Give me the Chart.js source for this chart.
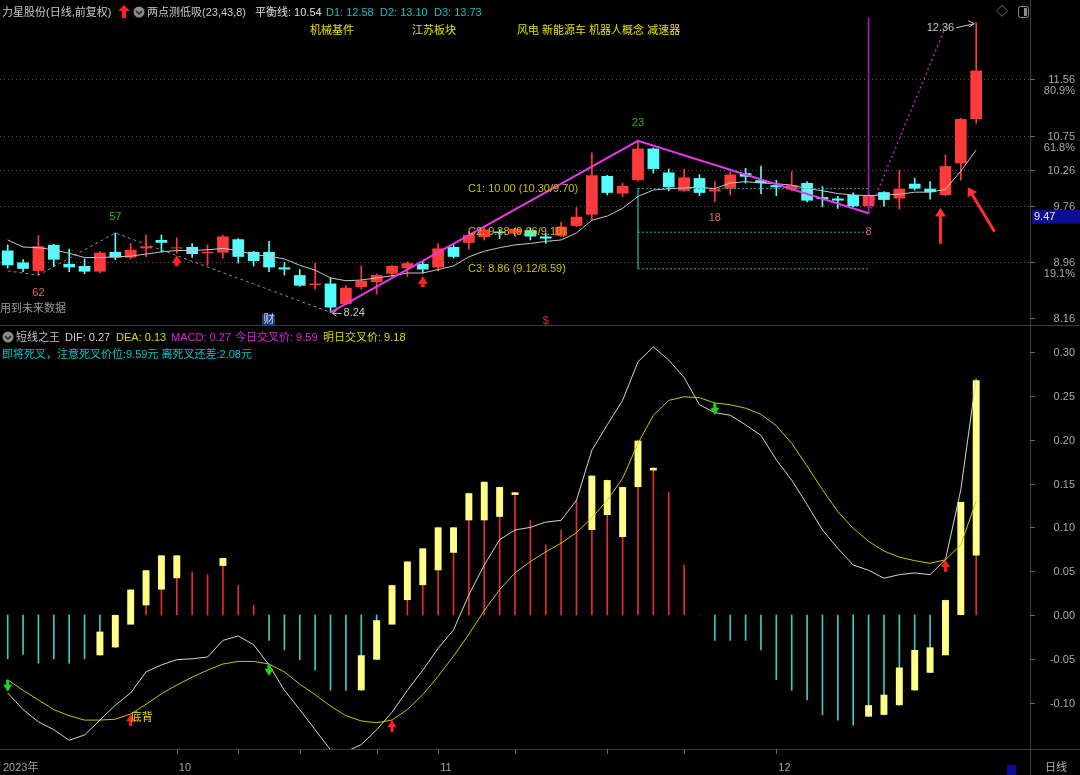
<!DOCTYPE html>
<html lang="zh-CN">
<head>
<meta charset="utf-8">
<title>力星股份 日线</title>
<script src="https://cdn.jsdelivr.net/npm/chart.js@4.4.1/dist/chart.umd.min.js"></script>
<style>
  html, body { margin: 0; padding: 0; background: #000; }
  body { width: 1080px; height: 775px; position: relative; overflow: hidden;
         font-family: "Liberation Sans", "Noto Sans CJK SC", sans-serif; font-size: 11px; }
  canvas { position: absolute; left: 0; }
  #topCanvas { top: 0; }
  #botCanvas { top: 327px; }
  .lbl { position: absolute; white-space: nowrap; line-height: 14px; }
</style>
</head>
<body>
<canvas id="topCanvas" width="1080" height="327"></canvas>
<canvas id="botCanvas" width="1080" height="448"></canvas>

<div class="lbl" style="left:2px;top:5px;color:#c8c8c8">力星股份(日线,前复权)</div>
<svg style="position:absolute;left:118px;top:5px" width="12" height="14"><polygon points="6,0 12,6 8,6 8,13 4,13 4,6 0,6" fill="#ff2020"/></svg>
<svg style="position:absolute;left:133px;top:6px" width="12" height="12"><circle cx="6" cy="6" r="5.5" fill="#8a8a8a"/><polyline points="3,5 6,8 9,5" fill="none" stroke="#222" stroke-width="1.5"/></svg>
<div class="lbl" style="left:147px;top:5px;color:#c8c8c8">两点测低吸(23,43,8)</div>
<div class="lbl" style="left:255px;top:5px;color:#e0e0e0">平衡线: 10.54</div>
<div class="lbl" style="left:326px;top:5px;color:#10c0c0">D1: 12.58</div>
<div class="lbl" style="left:380px;top:5px;color:#10c0c0">D2: 13.10</div>
<div class="lbl" style="left:434px;top:5px;color:#10c0c0">D3: 13.73</div>
<div class="lbl" style="left:310px;top:23px;color:#e0e000">机械基件</div>
<div class="lbl" style="left:412px;top:23px;color:#e0e000">江苏板块</div>
<div class="lbl" style="left:517px;top:23px;color:#e0e000">风电 新能源车 机器人概念 减速器</div>
<div class="lbl" style="left:996px;top:5px;color:#8a8a8a;font-size:12px">◇</div>
<svg style="position:absolute;left:1018px;top:6px" width="11" height="12"><rect x="0.5" y="0.5" width="10" height="11" rx="2" fill="none" stroke="#8a8a8a"/><rect x="6" y="2" width="3" height="8" fill="#8a8a8a"/></svg>

<svg style="position:absolute;left:2px;top:331px" width="12" height="12"><circle cx="6" cy="6" r="5.5" fill="#8a8a8a"/><polyline points="3,5 6,8 9,5" fill="none" stroke="#222" stroke-width="1.5"/></svg>
<div class="lbl" style="left:16px;top:330px;color:#c0c0c0">短线之王</div>
<div class="lbl" style="left:65px;top:330px;color:#d0d0d0">DIF: 0.27</div>
<div class="lbl" style="left:116px;top:330px;color:#d8d800">DEA: 0.13</div>
<div class="lbl" style="left:171px;top:330px;color:#e020e0">MACD: 0.27</div>
<div class="lbl" style="left:235px;top:330px;color:#e020e0">今日交叉价: 9.59</div>
<div class="lbl" style="left:323px;top:330px;color:#d8d800">明日交叉价: 9.18</div>
<div class="lbl" style="left:2px;top:347px;color:#00c8c8">即将死叉，注意死叉价位:9.59元 离死叉还差:2.08元</div>

<script>
// trading days shown (Sep 14 - Dec 20, 2023)
const dates = [
  '09-14','09-15','09-18','09-19','09-20','09-21','09-22','09-25','09-26','09-27','09-28',
  '10-09','10-10','10-11','10-12','10-13','10-16','10-17','10-18','10-19','10-20',
  '10-23','10-24','10-25','10-26','10-27','10-30','10-31',
  '11-01','11-02','11-03','11-06','11-07','11-08','11-09','11-10','11-13','11-14',
  '11-15','11-16','11-17','11-20','11-21','11-22','11-23','11-24','11-27','11-28','11-29','11-30',
  '12-01','12-04','12-05','12-06','12-07','12-08','12-11','12-12','12-13','12-14','12-15',
  '12-18','12-19','12-20'
];
const emptySlots = ['', '', ''];

const open = [9.12,8.95,8.83,9.20,8.93,8.90,8.82,9.10,9.02,9.15, 9.27,9.15,9.17,9.08,9.09,9.28,9.10,9.10,8.88,8.77,
  8.63,8.65,8.36,8.60,8.67,8.79,8.87,8.93,8.88,9.17, 9.23,9.31,9.39,9.36,9.41,9.32,9.33,9.47,9.63,10.18,
  9.93,10.12,10.57,10.23,9.97,10.15,9.96,10.00,10.22,10.12, 10.05,9.99,10.08,9.88,9.86,9.91,9.75,9.95,9.86,10.07,
  10.00,9.91,10.36,10.99];
const close = [8.91,8.86,9.18,8.99,8.88,8.82,9.09,9.02,9.13,9.18, 9.23,9.16,9.07,9.10,9.32,9.03,8.97,8.88,8.85,8.62,
  8.65,8.31,8.59,8.69,8.77,8.90,8.94,8.85,9.15,9.03, 9.34,9.42,9.37,9.43,9.32,9.29,9.46,9.60,10.19,9.94,
  10.04,10.57,10.28,10.02,10.16,9.94,9.99,10.20,10.17,10.08, 10.02,10.05,9.83,9.85,9.83,9.75,9.91,9.84,10.00,10.00,
  9.95,10.32,10.99,11.68];
const high = [9.20,8.99,9.33,9.21,9.14,9.00,9.11,9.37,9.22,9.34, 9.34,9.30,9.22,9.20,9.34,9.29,9.11,9.25,8.95,8.85,
  8.94,8.73,8.62,8.90,8.79,8.91,8.96,8.96,9.22,9.22, 9.39,9.46,9.42,9.44,9.44,9.36,9.52,9.73,10.51,10.19,
  10.08,10.68,10.58,10.28,10.28,10.20,10.10,10.24,10.29,10.32, 10.12,10.24,10.10,10.03,9.89,9.94,9.92,9.96,10.26,10.15,
  10.10,10.48,11.00,12.36];
const low = [8.87,8.82,8.77,8.89,8.82,8.79,8.80,8.99,9.00,9.03, 9.10,9.08,9.02,8.91,9.01,8.94,8.90,8.82,8.77,8.61,
  8.57,8.24,8.35,8.57,8.50,8.75,8.75,8.80,8.83,9.01, 9.14,9.27,9.29,9.33,9.27,9.22,9.32,9.46,9.55,9.91,
  9.89,10.11,10.22,9.97,9.96,9.90,9.82,9.91,10.08,9.93, 9.90,9.97,9.81,9.74,9.72,9.74,9.74,9.75,9.71,9.98,
  9.85,9.90,10.12,10.93];
const balance = [9.27,9.17,9.16,9.13,9.08,9.02,9.02,9.03,9.04,9.07, 9.10,9.12,9.12,9.13,9.15,9.12,9.06,9.04,9.00,8.91,
  8.84,8.73,8.69,8.70,8.73,8.76,8.80,8.80,8.85,8.90, 9.03,9.11,9.16,9.20,9.22,9.25,9.27,9.37,9.55,9.61,
  9.72,9.89,9.98,10.00,10.01,10.02,10.00,10.08,10.10,10.08, 10.07,10.05,10.00,9.97,9.93,9.91,9.90,9.91,9.92,9.95,
  9.95,9.99,10.25,10.55];

// dashed swing line and the magenta wave (index / price pairs)
const zigIdx = [0, 2, 7, 21];
const zigVal = [8.83, 8.77, 9.37, 8.24];
const waveIdx = [21, 41, 56];
const waveVal = [8.24, 10.68, 9.65];
const projIdx = [56, 61];
const projVal = [9.65, 12.30];
const markIdx = 56;
const markRange = [9.65, 12.43];
const levelFrom = 41, levelTo = 56;
const levelC = [10.00, 9.38, 8.86];
const levelText = ['C1: 10.00 (10.30/9.70)', 'C2: 9.38 (9.66/9.10)', 'C3: 8.86 (9.12/8.59)'];

const priceTicks = [11.56, 10.75, 10.26, 9.76, 8.96, 8.16];
const priceTickPct = ['80.9%', '61.8%', '', '', '19.1%', ''];

// 短线之王 (MACD style)
const dif = [-0.089,-0.108,-0.122,-0.131,-0.143,-0.137,-0.120,-0.103,-0.089,-0.065, -0.057,-0.051,-0.050,-0.048,-0.029,-0.024,-0.034,-0.057,-0.086,-0.108,
  -0.131,-0.154,-0.156,-0.148,-0.131,-0.111,-0.086,-0.063,-0.038,-0.017, 0.023,0.057,0.086,0.097,0.100,0.106,0.108,0.131,0.188,0.217,
  0.245,0.289,0.306,0.291,0.271,0.240,0.231,0.228,0.217,0.205, 0.177,0.154,0.126,0.097,0.076,0.057,0.051,0.042,0.046,0.048,
  0.046,0.063,0.143,0.270];
const dea = [-0.074,-0.086,-0.097,-0.108,-0.115,-0.120,-0.120,-0.119,-0.113,-0.102, -0.090,-0.080,-0.071,-0.063,-0.056,-0.053,-0.053,-0.056,-0.065,-0.079,
  -0.091,-0.104,-0.115,-0.121,-0.123,-0.120,-0.108,-0.091,-0.070,-0.047, -0.022,0.005,0.029,0.048,0.061,0.072,0.082,0.094,0.111,0.131,
  0.156,0.196,0.228,0.245,0.249,0.248,0.242,0.240,0.236,0.229, 0.216,0.196,0.170,0.143,0.118,0.099,0.084,0.073,0.066,0.062,
  0.059,0.063,0.080,0.130];
const macd = [-0.05,-0.045,-0.055,-0.05,-0.055,-0.05,-0.046,-0.037,0.029,0.051, 0.068,0.068,0.049,0.046,0.065,0.034,0.011,-0.029,-0.04,-0.051,
  -0.063,-0.086,-0.086,-0.086,-0.051,0.034,0.061,0.076,0.1,0.1, 0.139,0.152,0.146,0.14,0.108,0.08,0.097,0.131,0.159,0.154,
  0.146,0.199,0.168,0.14,0.057,0.0,-0.029,-0.029,-0.029,-0.04, -0.074,-0.086,-0.097,-0.114,-0.12,-0.126,-0.116,-0.114,-0.103,-0.086,
  -0.066,0.017,0.129,0.268];
const boxIdx = [6,7,8,9,10,11,14,23,24,25,26,27,28,29,30,31,32,33,38,39,40,41,42,56,57,58,59,60,61,62,63];
const boxLo = [-0.046,-0.037,-0.011,0.011,0.029,0.042,0.056,-0.086,-0.051,-0.011,0.017,0.034,0.051,0.071,0.108,0.108,0.112,0.137,
  0.097,0.114,0.089,0.146,0.165,-0.116,-0.114,-0.103,-0.086,-0.066,-0.046,0.0,0.068];
const boxHi = [-0.019,0.0,0.029,0.051,0.068,0.068,0.065,-0.046,-0.006,0.034,0.061,0.076,0.1,0.1,0.139,0.152,0.146,0.140,
  0.159,0.154,0.146,0.199,0.168,-0.103,-0.091,-0.06,-0.04,-0.037,0.017,0.129,0.268];
const macdTicks = [0.30, 0.25, 0.20, 0.15, 0.10, 0.05, 0.00, -0.05, -0.10];

const monthIdx = [0, 11, 28, 50];
const monthText = ['2023年', '10', '11', '12'];
const axisTickIdx = [11, 15, 19, 24, 28, 33, 39, 44, 50];

const FONT = '11px "Liberation Sans", "Noto Sans CJK SC", sans-serif';
const RED = '#ff3a3a', CYAN = '#54fcfc';
const slots = dates.concat(emptySlots);

const isUp = close.map((c, i) => c >= open[i]);
const candleColor = isUp.map(u => (u ? RED : CYAN));

function sparse(idx, vals) {
  const arr = dates.map(() => null);
  idx.forEach((k, j) => { arr[k] = vals[j]; });
  return arr;
}
function between(from, to, v) {
  return dates.map((d, i) => (i >= from && i <= to ? v : null));
}

function text(ctx, s, x, y, color, align) {
  ctx.font = FONT;
  ctx.fillStyle = color;
  ctx.textAlign = align || 'left';
  ctx.textBaseline = 'middle';
  ctx.fillText(s, x, y);
}
// vertical arrow; dir -1 points up, +1 points down
function arrow(ctx, x, tipY, dir, len, headW, shaftW, color) {
  const hh = headW * 0.8;
  ctx.fillStyle = color;
  ctx.beginPath();
  ctx.moveTo(x, tipY);
  ctx.lineTo(x + headW / 2, tipY - dir * hh);
  ctx.lineTo(x + shaftW / 2, tipY - dir * hh);
  ctx.lineTo(x + shaftW / 2, tipY - dir * len);
  ctx.lineTo(x - shaftW / 2, tipY - dir * len);
  ctx.lineTo(x - shaftW / 2, tipY - dir * hh);
  ctx.lineTo(x - headW / 2, tipY - dir * hh);
  ctx.closePath();
  ctx.fill();
}

const topDecor = {
  id: 'topDecor',
  beforeDatasetsDraw(chart) {
    const { ctx, chartArea, scales: { y } } = chart;
    ctx.save();
    ctx.strokeStyle = '#5a5a5a';
    ctx.lineWidth = 1;
    ctx.setLineDash([1, 3]);
    priceTicks.slice(0, 5).forEach(t => {
      const py = Math.round(y.getPixelForValue(t)) + 0.5;
      ctx.beginPath(); ctx.moveTo(0, py); ctx.lineTo(chartArea.right, py); ctx.stroke();
    });
    ctx.restore();
  },
  afterDraw(chart) {
    const { ctx, chartArea, scales: { x, y } } = chart;
    const px = i => x.getPixelForValue(i);
    ctx.save();
    // frame
    ctx.strokeStyle = '#3c3c3c';
    ctx.lineWidth = 1;
    ctx.beginPath();
    ctx.moveTo(chartArea.right + 0.5, 0); ctx.lineTo(chartArea.right + 0.5, 327);
    ctx.moveTo(0, 325.5); ctx.lineTo(1080, 325.5);
    ctx.stroke();
    // right price axis
    priceTicks.forEach((t, i) => {
      const py = Math.round(y.getPixelForValue(t)) + 0.5;
      ctx.strokeStyle = '#6a6a6a';
      ctx.beginPath(); ctx.moveTo(chartArea.right, py); ctx.lineTo(chartArea.right + 5, py); ctx.stroke();
      text(ctx, t.toFixed(2), 1075, py, '#a8a8a8', 'right');
      if (priceTickPct[i]) text(ctx, priceTickPct[i], 1075, py + 11, '#a8a8a8', 'right');
    });
    const boxY = y.getPixelForValue(9.60);
    ctx.fillStyle = '#0c0c96';
    ctx.fillRect(chartArea.right + 2, boxY - 7, 48, 14);
    text(ctx, '9.47', chartArea.right + 4, boxY, '#e8e8ff', 'left');

    // pivot counts and price notes
    text(ctx, '57', px(7), y.getPixelForValue(high[7]) - 16, '#2fb52f', 'center');
    text(ctx, '62', px(2), y.getPixelForValue(low[2]) + 18, '#e06868', 'center');
    text(ctx, '23', px(41), y.getPixelForValue(high[41]) - 18, '#2fb52f', 'center');
    text(ctx, '18', px(46), y.getPixelForValue(low[46]) + 17, '#e06868', 'center');
    text(ctx, '8', px(56), y.getPixelForValue(waveVal[2]) + 19, '#e06868', 'center');

    const lowY = y.getPixelForValue(low[21]) + 1;
    ctx.strokeStyle = '#c8c8c8';
    ctx.beginPath();
    ctx.moveTo(px(21) + 2, lowY); ctx.lineTo(px(21) + 11, lowY);
    ctx.moveTo(px(21) + 2, lowY); ctx.lineTo(px(21) + 6, lowY - 3);
    ctx.moveTo(px(21) + 2, lowY); ctx.lineTo(px(21) + 6, lowY + 3);
    ctx.stroke();
    text(ctx, '8.24', px(21) + 13, lowY, '#c8c8c8', 'left');

    const hiY = y.getPixelForValue(high[63]);
    text(ctx, '12.36', px(63) - 22, hiY + 5, '#c8c8c8', 'right');
    ctx.beginPath();
    ctx.moveTo(px(63) - 20, hiY + 5); ctx.lineTo(px(63) - 2, hiY + 1);
    ctx.moveTo(px(63) - 2, hiY + 1); ctx.lineTo(px(63) - 8, hiY - 2);
    ctx.moveTo(px(63) - 2, hiY + 1); ctx.lineTo(px(63) - 7, hiY + 4);
    ctx.stroke();

    levelC.forEach((v, i) => text(ctx, levelText[i], 468, y.getPixelForValue(v), '#c8c000', 'left'));

    text(ctx, '用到未来数据', 0, 309, '#9a9a9a', 'left');
    ctx.fillStyle = '#1c3c70';
    ctx.fillRect(px(17) - 7, 314, 13, 12);
    text(ctx, '财', px(17), 320, '#d0d8ff', 'center');
    text(ctx, '$', px(35), 321, '#e03030', 'center');

    // signal arrows
    arrow(ctx, px(11), y.getPixelForValue(low[11]) + 2, -1, 11, 10, 4, '#ff2020');
    arrow(ctx, px(27), y.getPixelForValue(low[27]) + 3, -1, 11, 10, 4, '#ff2020');
    arrow(ctx, px(61) - 5, y.getPixelForValue(low[61]) + 12, -1, 36, 11, 3, '#ff3030');
    ctx.save();
    const tx = px(62) + 7, ty = y.getPixelForValue(low[62]) + 7;
    ctx.translate(tx, ty);
    ctx.rotate(-Math.atan2(27, 45));
    arrow(ctx, 0, 0, -1, 52, 11, 3, '#ff3030');
    ctx.restore();
    ctx.restore();
  }
};

const botDecor = {
  id: 'botDecor',
  afterDraw(chart) {
    const { ctx, chartArea, scales: { x, y } } = chart;
    const px = i => x.getPixelForValue(i);
    ctx.save();
    ctx.strokeStyle = '#3c3c3c';
    ctx.lineWidth = 1;
    ctx.beginPath();
    ctx.moveTo(chartArea.right + 0.5, 0); ctx.lineTo(chartArea.right + 0.5, 448);
    ctx.moveTo(0, chartArea.bottom + 0.5); ctx.lineTo(1080, chartArea.bottom + 0.5);
    ctx.stroke();
    macdTicks.forEach(t => {
      const py = Math.round(y.getPixelForValue(t)) + 0.5;
      ctx.strokeStyle = '#6a6a6a';
      ctx.beginPath(); ctx.moveTo(chartArea.right, py); ctx.lineTo(chartArea.right + 5, py); ctx.stroke();
      text(ctx, t.toFixed(2), 1075, py, '#a8a8a8', 'right');
    });
    // date axis
    axisTickIdx.forEach(i => {
      const tx = Math.round(px(i)) + 0.5;
      ctx.strokeStyle = '#6a6a6a';
      ctx.beginPath(); ctx.moveTo(tx, chartArea.bottom); ctx.lineTo(tx, chartArea.bottom + 5); ctx.stroke();
    });
    monthIdx.forEach((i, j) => {
      const tx = i === 0 ? 3 : px(i) + 2;
      text(ctx, monthText[j], tx, chartArea.bottom + 19, '#a0a0a0', 'left');
    });
    ctx.fillStyle = '#0c0c96';
    ctx.fillRect(1007, chartArea.bottom + 16, 9, 10);
    text(ctx, '日线', 1045, chartArea.bottom + 19, '#b0b0b0', 'left');

    // cross signals on the DEA line
    [0, 17, 46].forEach(i => arrow(ctx, px(i), y.getPixelForValue(dea[i]) + 12, 1, 12, 9, 3, '#20d020'));
    [8, 25, 61].forEach(i => arrow(ctx, px(i), y.getPixelForValue(dea[i]), -1, 12, 9, 3, '#ff2020'));
    text(ctx, '底背', px(8) + 0, y.getPixelForValue(dea[8]) + 4, '#e8e000', 'left');
    ctx.restore();
  }
};

new Chart(document.getElementById('topCanvas'), {
  type: 'bar',
  data: {
    labels: slots,
    datasets: [
      { type: 'line', data: balance, borderColor: '#c4c4c4', borderWidth: 1, pointRadius: 0, order: 3 },
      { type: 'line', data: sparse(zigIdx, zigVal), borderColor: '#8c8c8c', borderWidth: 1, borderDash: [3, 3],
        pointRadius: 0, spanGaps: true, order: 3 },
      { type: 'line', data: sparse(waveIdx, waveVal), borderColor: '#e838e8', borderWidth: 2, pointRadius: 0,
        spanGaps: true, order: 1 },
      { type: 'line', data: sparse(projIdx, projVal), borderColor: '#c020c0', borderWidth: 1.5, borderDash: [2, 3],
        pointRadius: 0, spanGaps: true, order: 1 },
      ...levelC.map(v => ({ type: 'line', data: between(levelFrom, levelTo, v), borderColor: '#20a8a8',
        borderWidth: 1, borderDash: [2, 2], pointRadius: 0, order: 4 })),
      { data: sparse([levelFrom], [[levelC[2], levelC[0]]]), backgroundColor: '#1c8a8a', barThickness: 1,
        grouped: false, order: 4 },
      { data: sparse([markIdx], [markRange]), backgroundColor: '#a020b0', barThickness: 1, grouped: false, order: 4 },
      { data: low.map((l, i) => [l, high[i]]), backgroundColor: candleColor, barThickness: 1, grouped: false, order: 6 },
      { data: open.map((o, i) => [Math.min(o, close[i]), Math.max(o, close[i])]), backgroundColor: candleColor,
        barPercentage: 0.76, categoryPercentage: 1, minBarLength: 1, grouped: false, order: 5 }
    ]
  },
  options: {
    responsive: false, animation: false, events: [],
    layout: { padding: { left: 0, right: 50, top: 8, bottom: 3 } },
    plugins: { legend: { display: false }, tooltip: { enabled: false } },
    scales: {
      x: { display: false, offset: true },
      y: { display: false, min: 8.0747, max: 12.5696 }
    }
  },
  plugins: [topDecor]
});

new Chart(document.getElementById('botCanvas'), {
  type: 'bar',
  data: {
    labels: slots,
    datasets: [
      { type: 'line', data: dif, borderColor: '#d4d4d4', borderWidth: 1, pointRadius: 0, order: 1 },
      { type: 'line', data: dea, borderColor: '#c8c800', borderWidth: 1, pointRadius: 0, order: 1 },
      { data: sparse(boxIdx, boxLo.map((v, j) => [v, boxHi[j]])), backgroundColor: '#ffff88',
        barPercentage: 0.45, categoryPercentage: 1, grouped: false, order: 2 },
      { data: macd, backgroundColor: macd.map(v => (v >= 0 ? '#e03030' : '#40c8c8')), barThickness: 1,
        grouped: false, order: 3 }
    ]
  },
  options: {
    responsive: false, animation: false, events: [],
    layout: { padding: { left: 0, right: 50, top: 3, bottom: 26 } },
    plugins: { legend: { display: false }, tooltip: { enabled: false } },
    scales: {
      x: { display: false, offset: true },
      y: { display: false, min: -0.153, max: 0.3253 }
    }
  },
  plugins: [botDecor]
});
</script>
</body>
</html>
